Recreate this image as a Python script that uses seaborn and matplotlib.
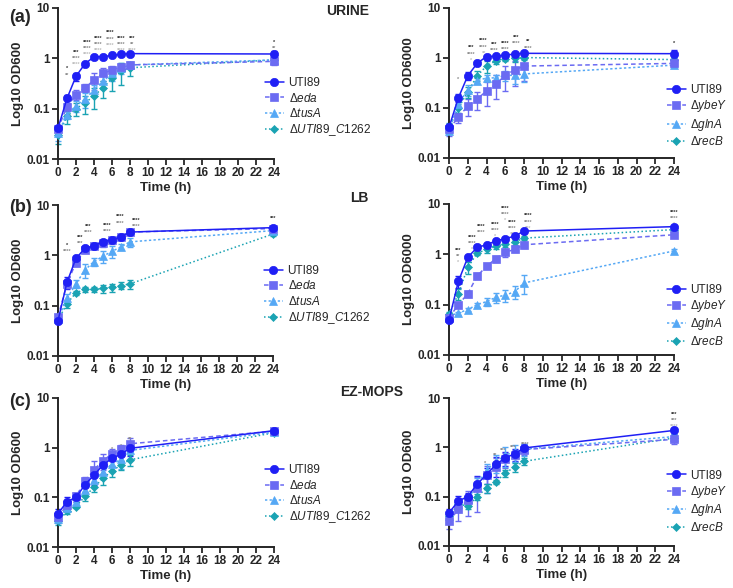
import numpy as np
import pandas as pd
import matplotlib
matplotlib.use("Agg")
import matplotlib.pyplot as plt
import seaborn as sns

sns.set_style("ticks")
plt.rcParams['font.family'] = ['Liberation Sans', 'DejaVu Sans']
plt.rcParams['mathtext.fontset'] = 'custom'
plt.rcParams['mathtext.rm'] = 'Liberation Sans'
plt.rcParams['mathtext.it'] = 'Liberation Sans:italic'
plt.rcParams['mathtext.bf'] = 'Liberation Sans:bold'

# ---------------- data ----------------
time_h = [0, 1, 2, 3, 4, 5, 6, 7, 8, 24]
x_ticks = list(range(0, 25, 2))
y_ticks = [0.01, 0.1, 1, 10]
y_ticklabels = ["0.01", "0.1", "1", "10"]

labels_left = ["UTI89", "Δ$\\mathit{eda}$", "Δ$\\mathit{tusA}$", "Δ$\\mathit{UTI89\\_C1262}$"]
labels_right = ["UTI89", "Δ$\\mathit{ybeY}$", "Δ$\\mathit{glnA}$", "Δ$\\mathit{recB}$"]

# URINE
urine_uti89 = [0.041, 0.16, 0.44, 0.78, 1.07, 1.08, 1.14, 1.20, 1.24, 1.22]
urine_eda = [0.040, 0.11, 0.19, 0.26, 0.37, 0.50, 0.59, 0.67, 0.74, 0.87]
urine_tusA = [0.033, 0.076, 0.115, 0.155, 0.24, 0.35, 0.50, 0.64, 0.74, 0.93]
urine_c1262 = [0.030, 0.070, 0.100, 0.130, 0.18, 0.26, 0.40, 0.55, 0.65, 0.93]
urine_ybeY = [0.038, 0.065, 0.110, 0.150, 0.22, 0.30, 0.45, 0.58, 0.69, 0.78]
urine_glnA = [0.035, 0.120, 0.230, 0.350, 0.40, 0.40, 0.45, 0.45, 0.48, 0.72]
urine_recB = [0.040, 0.100, 0.210, 0.440, 0.69, 0.88, 0.97, 1.00, 1.02, 0.93]

urine_uti89_sd = [0.005, 0.03, 0.08, 0.05, 0.05, 0.05, 0.05, 0.05, 0.05, 0.20]
urine_eda_sd = [0.005, 0.02, 0.04, 0.05, 0.14, 0.15, 0.13, 0.10, 0.10, 0.12]
urine_tusA_sd = [0.010, 0.015, 0.03, 0.05, 0.06, 0.10, 0.15, 0.15, 0.10, 0.10]
urine_c1262_sd = [0.010, 0.020, 0.03, 0.05, 0.08, 0.10, 0.18, 0.25, 0.20, 0.10]
urine_ybeY_sd = [0.010, 0.015, 0.04, 0.06, 0.11, 0.15, 0.23, 0.30, 0.35, 0.10]
urine_glnA_sd = [0.005, 0.060, 0.06, 0.05, 0.05, 0.05, 0.10, 0.15, 0.15, 0.10]
urine_recB_sd = [0.010, 0.020, 0.05, 0.10, 0.20, 0.12, 0.10, 0.15, 0.10, 0.10]

# LB
lb_uti89 = [0.050, 0.29, 0.87, 1.37, 1.55, 1.85, 2.05, 2.30, 2.90, 3.55]
lb_eda = [0.060, 0.27, 0.72, 1.30, 1.50, 1.75, 2.00, 2.30, 2.90, 3.40]
lb_tusA = [0.055, 0.14, 0.27, 0.51, 0.75, 0.95, 1.20, 1.45, 1.85, 3.10]
lb_c1262 = [0.052, 0.11, 0.18, 0.21, 0.21, 0.22, 0.23, 0.25, 0.27, 2.65]
lb_ybeY = [0.055, 0.10, 0.165, 0.37, 0.58, 0.82, 1.10, 1.25, 1.55, 2.45]
lb_glnA = [0.060, 0.068, 0.080, 0.10, 0.115, 0.14, 0.155, 0.18, 0.27, 1.17]
lb_recB = [0.065, 0.165, 0.55, 1.05, 1.25, 1.45, 1.60, 1.75, 2.10, 3.10]

lb_uti89_sd = [0.005, 0.08, 0.10, 0.15, 0.15, 0.20, 0.20, 0.20, 0.20, 0.30]
lb_eda_sd = [0.005, 0.05, 0.10, 0.15, 0.15, 0.30, 0.30, 0.20, 0.20, 0.30]
lb_tusA_sd = [0.005, 0.03, 0.05, 0.15, 0.15, 0.25, 0.30, 0.20, 0.40, 0.30]
lb_c1262_sd = [0.005, 0.02, 0.02, 0.02, 0.02, 0.04, 0.04, 0.04, 0.06, 0.20]
lb_ybeY_sd = [0.005, 0.01, 0.02, 0.05, 0.05, 0.10, 0.20, 0.15, 0.20, 0.20]
lb_glnA_sd = [0.005, 0.005, 0.005, 0.01, 0.02, 0.03, 0.04, 0.05, 0.11, 0.10]
lb_recB_sd = [0.005, 0.04, 0.15, 0.10, 0.20, 0.20, 0.20, 0.20, 0.20, 0.20]

# EZ-MOPS
ez_uti89 = [0.047, 0.082, 0.10, 0.18, 0.28, 0.45, 0.61, 0.74, 0.97, 2.20]
ez_eda = [0.040, 0.070, 0.105, 0.21, 0.36, 0.55, 0.75, 0.92, 1.20, 2.15]
ez_tusA = [0.036, 0.060, 0.080, 0.14, 0.22, 0.33, 0.47, 0.58, 0.88, 2.05]
ez_c1262 = [0.033, 0.052, 0.065, 0.105, 0.16, 0.24, 0.34, 0.45, 0.57, 2.00]
ez_ybeY = [0.032, 0.055, 0.085, 0.15, 0.27, 0.40, 0.58, 0.70, 0.90, 1.45]
ez_glnA = [0.040, 0.070, 0.090, 0.17, 0.35, 0.50, 0.70, 0.80, 0.92, 1.65]
ez_recB = [0.040, 0.070, 0.065, 0.10, 0.15, 0.20, 0.30, 0.40, 0.52, 1.55]

ez_uti89_sd = [0.010, 0.020, 0.02, 0.05, 0.10, 0.15, 0.20, 0.20, 0.30, 0.10]
ez_eda_sd = [0.010, 0.010, 0.02, 0.05, 0.17, 0.20, 0.20, 0.20, 0.40, 0.10]
ez_tusA_sd = [0.005, 0.010, 0.01, 0.03, 0.06, 0.10, 0.15, 0.20, 0.30, 0.10]
ez_c1262_sd = [0.005, 0.005, 0.005, 0.02, 0.03, 0.06, 0.08, 0.10, 0.15, 0.10]
ez_uti89r_sd = [0.010, 0.020, 0.02, 0.08, 0.10, 0.20, 0.20, 0.20, 0.20, 0.30]
ez_ybeY_sd = [0.010, 0.023, 0.045, 0.10, 0.15, 0.20, 0.20, 0.20, 0.20, 0.30]
ez_glnA_sd = [0.010, 0.020, 0.02, 0.07, 0.10, 0.20, 0.30, 0.30, 0.25, 0.20]
ez_recB_sd = [0.005, 0.010, 0.01, 0.015, 0.03, 0.02, 0.05, 0.08, 0.08, 0.20]

# significance annotations: (time position, y level, rows)
stars_urine_left = [(1, 0.62, ["*", "**"]), (2, 1.33, ["***", "****", "****"]),
                    (3.3, 2.1, ["****", "****", "****"]), (4.5, 2.5, ["****", "****", "****"]),
                    (5.8, 3.2, ["****", "****", "****"]), (7, 2.5, ["****", "****", "****"]),
                    (8.2, 2.5, ["***", "**", "****"]), (24, 2.1, ["*", "**"])]
stars_urine_right = [(1, 0.5, ["", "*"]), (2.4, 1.6, ["***", "****", "*"]),
                     (3.7, 2.2, ["****", "****", "**"]), (4.8, 1.9, ["***", "****"]),
                     (6, 2.0, ["****", "****"]), (7.2, 2.6, ["***", "****"]),
                     (8.4, 2.1, ["**", "****"]), (24, 2.0, ["*"])]
stars_lb_left = [(1, 1.6, ["*", "****"]), (2.5, 2.3, ["***", "***"]),
                 (3.4, 3.8, ["***", "****"]), (5.5, 4.0, ["****", "****"]),
                 (7, 5.8, ["****", "****"]), (8.7, 5.0, ["****", "****"]),
                 (24, 5.3, ["***"])]
stars_lb_right = [(1, 1.2, ["***", "**", "*"]), (2.5, 2.2, ["****", "****", "*"]),
                  (3.4, 3.6, ["****", "****"]), (4.9, 4.0, ["****", "****", "*"]),
                  (6, 8.3, ["****", "****", "*"]), (6.7, 4.4, ["****", "****", "**"]),
                  (8.4, 5.8, ["****", "****", "***"]), (24, 6.9, ["****", "****", "*"])]
stars_ez_left = [(6, 1.25, ["", "*"]), (7, 1.4, ["", "*"]), (8, 2.0, ["", "**"])]
stars_ez_right = [(3.8, 0.62, ["", "*"]), (4.9, 0.93, ["", "**"]), (5.8, 1.18, ["", "***"]),
                  (6.8, 1.35, ["", "***"]), (8.1, 1.55, ["", "****"]),
                  (24, 4.75, ["***", "***", "****"])]

colors = ["#1f1ff5", "#6b6bf2", "#55a8f5", "#1aa3b3"]
markers = ["o", "s", "^", "D"]
msizes = [6.0, 6.0, 5.5, 4.0]
styles = ["-", (0, (3, 2)), (0, (1.5, 1.5)), (0, (1, 1.6))]

panels = [
    dict(pos=(58, 8, 274, 159), series=[urine_uti89, urine_eda, urine_tusA, urine_c1262],
         sds=[urine_uti89_sd, urine_eda_sd, urine_tusA_sd, urine_c1262_sd],
         labels=labels_left, ylabel="Log10 OD600", leg=(0.958, 0.34), stars=stars_urine_left),
    dict(pos=(449, 8, 674, 158), series=[urine_uti89, urine_ybeY, urine_glnA, urine_recB],
         sds=[urine_uti89_sd, urine_ybeY_sd, urine_glnA_sd, urine_recB_sd],
         labels=labels_right, ylabel="Log10 OD6000", leg=(0.968, 0.28), stars=stars_urine_right),
    dict(pos=(58, 205, 273, 356), series=[lb_uti89, lb_eda, lb_tusA, lb_c1262],
         sds=[lb_uti89_sd, lb_eda_sd, lb_tusA_sd, lb_c1262_sd],
         labels=labels_left, ylabel="Log10 OD600", leg=(0.958, 0.40), stars=stars_lb_left),
    dict(pos=(449, 204, 674, 355), series=[lb_uti89, lb_ybeY, lb_glnA, lb_recB],
         sds=[lb_uti89_sd, lb_ybeY_sd, lb_glnA_sd, lb_recB_sd],
         labels=labels_right, ylabel="Log10 OD6000", leg=(0.968, 0.26), stars=stars_lb_right),
    dict(pos=(58, 398, 274, 547), series=[ez_uti89, ez_eda, ez_tusA, ez_c1262],
         sds=[ez_uti89_sd, ez_eda_sd, ez_tusA_sd, ez_c1262_sd],
         labels=labels_left, ylabel="Log10 OD600", leg=(0.958, 0.35), stars=stars_ez_left),
    dict(pos=(449, 398, 674, 546), series=[ez_uti89, ez_ybeY, ez_glnA, ez_recB],
         sds=[ez_uti89r_sd, ez_ybeY_sd, ez_glnA_sd, ez_recB_sd],
         labels=labels_right, ylabel="Log10 OD600", leg=(0.968, 0.30), stars=stars_ez_right),
]

W, H = 733, 588
fig = plt.figure(figsize=(W / 100, H / 100), dpi=100)
star_colors = ["#333333", "#8a8a8a", "#bdbdbd"]

for p in panels:
    x0, y0, x1, y1 = p["pos"]
    ax = fig.add_axes([x0 / W, 1 - y1 / H, (x1 - x0) / W, (y1 - y0) / H])
    for i, (vals, sd, lab) in enumerate(zip(p["series"], p["sds"], p["labels"])):
        df = pd.DataFrame({"time": time_h, "od": vals, "sd": sd})
        ax.errorbar(df["time"], df["od"], yerr=df["sd"], fmt="none", ecolor=colors[i],
                    elinewidth=1.0, capsize=2.5, capthick=1.0, clip_on=False, zorder=2 + i * 0.1)
        sns.lineplot(data=df, x="time", y="od", ax=ax, color=colors[i], marker=markers[i],
                     markersize=msizes[i], markeredgecolor=colors[i], markeredgewidth=0.5,
                     linestyle=styles[i], linewidth=1.1, label=lab, clip_on=False,
                     zorder=5 - i * 0.5)
    ax.set_yscale("log")
    ax.set_ylim(0.01, 10)
    ax.set_xlim(0, 24)
    ax.set_xticks(x_ticks)
    ax.set_xticklabels([str(t) for t in x_ticks], fontsize=8.5, fontweight="bold")
    ax.set_yticks(y_ticks)
    ax.set_yticklabels(y_ticklabels, fontsize=8.5, fontweight="bold")
    ax.yaxis.set_minor_locator(matplotlib.ticker.NullLocator())
    ax.tick_params(axis="both", length=4, width=1.3, pad=2, direction="out")
    for s in ["top", "right"]:
        ax.spines[s].set_visible(False)
    for s in ["left", "bottom"]:
        ax.spines[s].set_linewidth(1.4)
    ax.set_xlabel("Time (h)", fontsize=9.5, fontweight="bold", labelpad=2)
    ax.set_ylabel(p["ylabel"], fontsize=9.5, fontweight="bold", labelpad=2)
    # stars
    for (t, yv, rows) in p["stars"]:
        for r, txt in enumerate(rows):
            if txt:
                ax.annotate(txt, (t, yv), xytext=(0, -r * 4.5), textcoords="offset points",
                            ha="center", va="center", fontsize=4, fontweight="bold",
                            color=star_colors[min(r, 2)], annotation_clip=False)
    ax.legend(loc="center left", bbox_to_anchor=p["leg"], frameon=False, fontsize=8.5,
              handlelength=1.6, handletextpad=0.4, labelspacing=0.2, borderaxespad=0,
              borderpad=0)

# titles and panel letters
fig.text(348 / W, 1 - 11 / H, "URINE", ha="center", va="center", fontsize=10, fontweight="bold")
fig.text(359 / W, 1 - 198 / H, "LB", ha="center", va="center", fontsize=10, fontweight="bold")
fig.text(372 / W, 1 - 392 / H, "EZ-MOPS", ha="center", va="center", fontsize=10, fontweight="bold")
fig.text(20 / W, 1 - 17 / H, "(a)", ha="center", va="center", fontsize=13, fontweight="bold")
fig.text(20 / W, 1 - 207 / H, "(b)", ha="center", va="center", fontsize=13, fontweight="bold")
fig.text(20 / W, 1 - 402 / H, "(c)", ha="center", va="center", fontsize=13, fontweight="bold")

fig.savefig("out.png", dpi=100)
